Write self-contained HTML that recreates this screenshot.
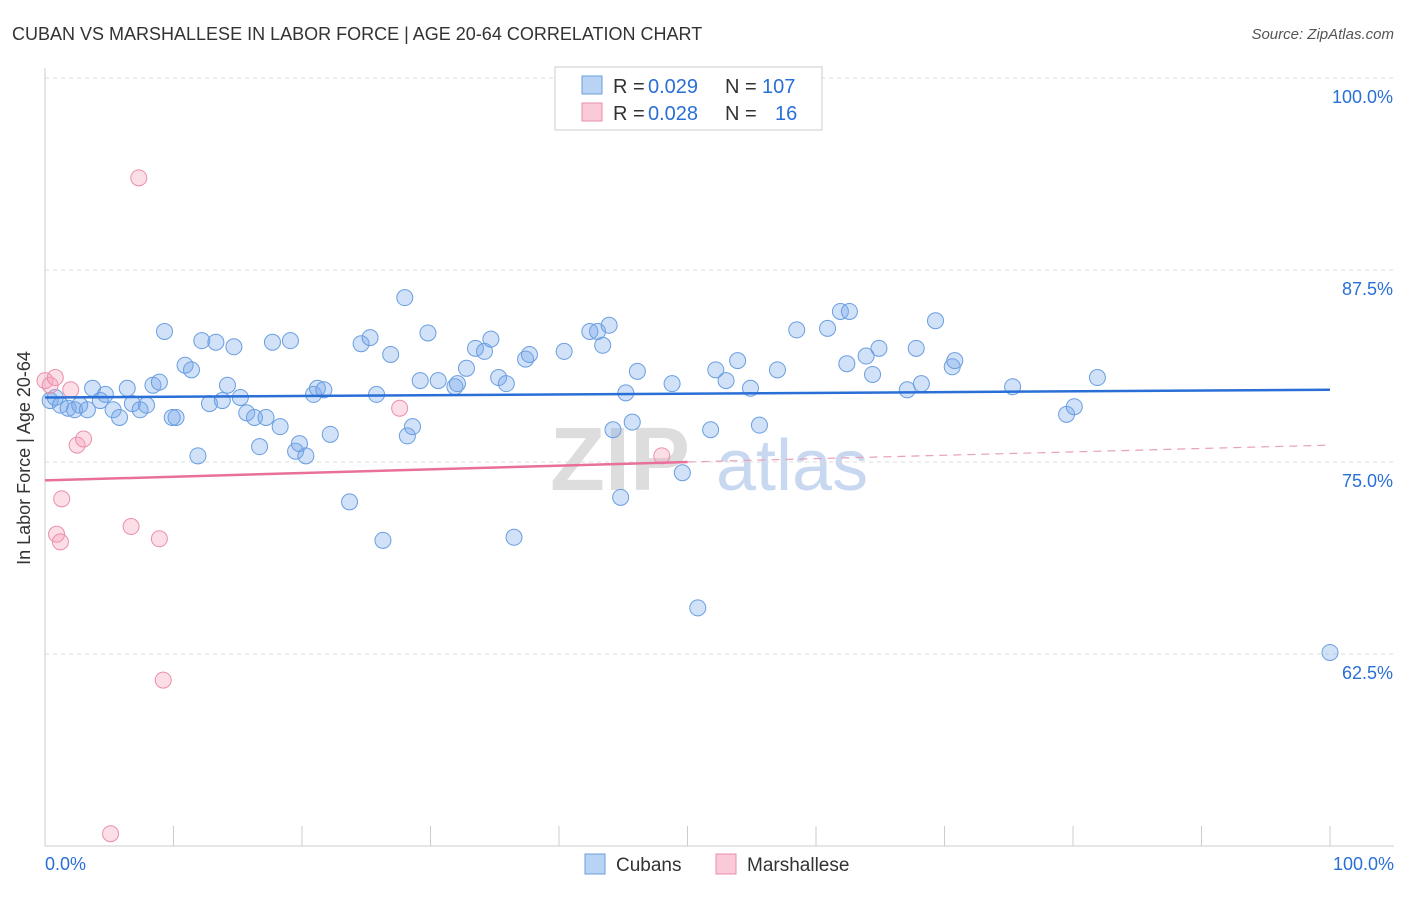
<!DOCTYPE html>
<html><head><meta charset="utf-8"><style>
body{margin:0;background:#fff;font-family:"Liberation Sans",sans-serif;}
svg text{font-family:"Liberation Sans",sans-serif;}
</style></head><body>
<svg id="c" width="1406" height="892">
<text x="12" y="40" font-size="18" fill="#333">CUBAN VS MARSHALLESE IN LABOR FORCE | AGE 20-64 CORRELATION CHART</text>
<text x="1394" y="39" font-size="15" fill="#555" text-anchor="end" font-style="italic">Source: ZipAtlas.com</text>
<text x="30" y="458" font-size="18" fill="#333" text-anchor="middle" transform="rotate(-90 30 458)">In Labor Force | Age 20-64</text>
<text x="690" y="490" font-size="90" fill="#ddd" text-anchor="end" font-weight="bold" font-family="Liberation Serif">ZIP</text>
<text x="716" y="490" font-size="72" fill="#c8d8f0">atlas</text>
<g id="grid"></g><g id="marks"></g>
<rect x="555" y="67" width="267" height="63" fill="#fff" stroke="#ccc"/>
<rect x="582" y="76" width="20" height="18" fill="#b9d3f5" stroke="#6a9ee0"/>
<rect x="582" y="103" width="20" height="18" fill="#fbcad8" stroke="#ea8fab"/>
<g font-size="20">
<text x="613" y="93" fill="#333">R =</text><text x="648" y="93" fill="#2a6fd6">0.029</text>
<text x="725" y="93" fill="#333">N =</text><text x="762" y="93" fill="#2a6fd6">107</text></g>
<g font-size="20">
<text x="613" y="120" fill="#333">R =</text><text x="648" y="120" fill="#2a6fd6">0.028</text>
<text x="725" y="120" fill="#333">N =</text><text x="775" y="120" fill="#2a6fd6">16</text></g>
<rect x="585" y="854" width="20" height="20" fill="#b9d3f5" stroke="#6a9ee0"/>
<text x="616" y="871" font-size="19" fill="#333">Cubans</text>
<rect x="716" y="854" width="20" height="20" fill="#fbcad8" stroke="#ea8fab"/>
<text x="747" y="871" font-size="19" fill="#333">Marshallese</text>
</svg>
<script>
const yTicks=[100,87.5,75,62.5];
const yTickLabels=["100.0%","87.5%","75.0%","62.5%"];
const cubanX=[0.4,0.8,1.2,1.8,2.3,2.7,3.3,3.7,4.3,4.7,
5.3,5.8,6.4,6.8,7.4,7.9,8.4,8.9,9.3,9.9,
10.2,10.9,11.4,11.9,12.2,12.8,13.3,13.8,14.2,14.7,
15.2,15.7,16.3,16.7,17.2,17.7,18.3,19.1,19.5,19.8,
20.3,20.9,21.2,21.7,22.2,23.7,24.6,25.3,25.8,26.3,
26.9,28.0,28.2,28.6,29.2,29.8,30.6,31.9,32.1,32.8,
33.5,34.2,34.7,35.3,35.9,36.5,37.4,37.7,40.4,42.4,
43.0,43.4,43.9,44.2,44.8,45.2,45.7,46.1,48.8,49.6,
50.8,51.8,52.2,53.0,53.9,54.9,55.6,57.0,58.5,60.9,
61.9,62.6,62.4,63.9,64.4,64.9,67.1,67.8,68.2,69.3,
70.6,70.8,75.3,79.5,80.1,81.9,100];
const cubanY=[79.0,79.2,78.7,78.5,78.4,78.7,78.4,79.8,79.0,79.4,
78.4,77.9,79.8,78.8,78.4,78.7,80.0,80.2,83.5,77.9,
77.9,81.3,81.0,75.4,82.9,78.8,82.8,79.0,80.0,82.5,
79.2,78.2,77.9,76.0,77.9,82.8,77.3,82.9,75.7,76.2,
75.4,79.4,79.8,79.7,76.8,72.4,82.7,83.1,79.4,69.9,
82.0,85.7,76.7,77.3,80.3,83.4,80.3,79.9,80.1,81.1,
82.4,82.2,83.0,80.5,80.1,70.1,81.7,82.0,82.2,83.5,
83.5,82.6,83.9,77.1,72.7,79.5,77.6,80.9,80.1,74.3,
65.5,77.1,81.0,80.3,81.6,79.8,77.4,81.0,83.6,83.7,
84.8,84.8,81.4,81.9,80.7,82.4,79.7,82.4,80.1,84.2,
81.2,81.6,79.9,78.1,78.6,80.5,62.6];
const marsX=[0,0.4,0.8,1.3,0.9,1.2,2.0,2.5,3.0,5.1,6.7,7.3,8.9,9.2,27.6,48.0];
const marsY=[80.3,80.0,80.5,72.6,70.3,69.8,79.7,76.1,76.5,50.8,70.8,93.5,70.0,60.8,78.5,75.4];
const X=v=>45+v*12.85, Y=v=>78+(100-v)*15.36;
const ns="http://www.w3.org/2000/svg";
function mk(t,a,p){const e=document.createElementNS(ns,t);for(const k in a)e.setAttribute(k,a[k]);p.appendChild(e);return e;}
const g=document.getElementById('grid'), m=document.getElementById('marks');
yTicks.forEach((t,i)=>{
 const l=mk('line',{x1:45,x2:1394,y1:Y(t),y2:Y(t),stroke:'#ddd','stroke-dasharray':'4 4'},g);
 
 
 const tx=mk('text',{x:1393,y:Y(t)+25,'font-size':18,fill:'#2a6fd6','text-anchor':'end'},g);
 tx.textContent=yTickLabels[i];
 
 
});
const ax=mk('line',{x1:45,x2:45,y1:68,y2:846,stroke:'#ccc'},g);


const bx=mk('line',{x1:45,x2:1394,y1:846,y2:846,stroke:'#ccc'},g);


for(let i=0;i<=10;i++){const t=mk('line',{x1:X(i*10),x2:X(i*10),y1:826,y2:846,stroke:'#ccc'},g);
 
 }
[[45,'start','0.0%'],[1394,'end','100.0%']].forEach(a=>{const t=mk('text',{x:a[0],y:870,'font-size':18,fill:'#2a6fd6','text-anchor':a[1]},g);t.textContent=a[2];
 
 });
cubanX.forEach((x,i)=>{const c=mk('circle',{cx:X(x),cy:Y(cubanY[i]),r:8,fill:'rgba(120,170,235,0.35)',stroke:'#6a9ee0','stroke-width':1},m);
 
 });
marsX.forEach((x,i)=>{const c=mk('circle',{cx:X(x),cy:Y(marsY[i]),r:8,fill:'rgba(245,160,185,0.35)',stroke:'#ea8fab','stroke-width':1},m);
 
 });
const bl=mk('line',{x1:X(0),y1:Y(79.2),x2:X(100),y2:Y(79.7),stroke:'#2a6fd6','stroke-width':2.5},m);


const pl=mk('line',{x1:X(0),y1:Y(73.8),x2:X(50),y2:Y(75.0),stroke:'#e8709a','stroke-width':2.5},m);


const pd=mk('line',{x1:X(50),y1:Y(75.0),x2:X(100),y2:Y(76.1),stroke:'#e8a0b8','stroke-width':1.2,'stroke-dasharray':'8 6'},m);


</script>
</body></html>
